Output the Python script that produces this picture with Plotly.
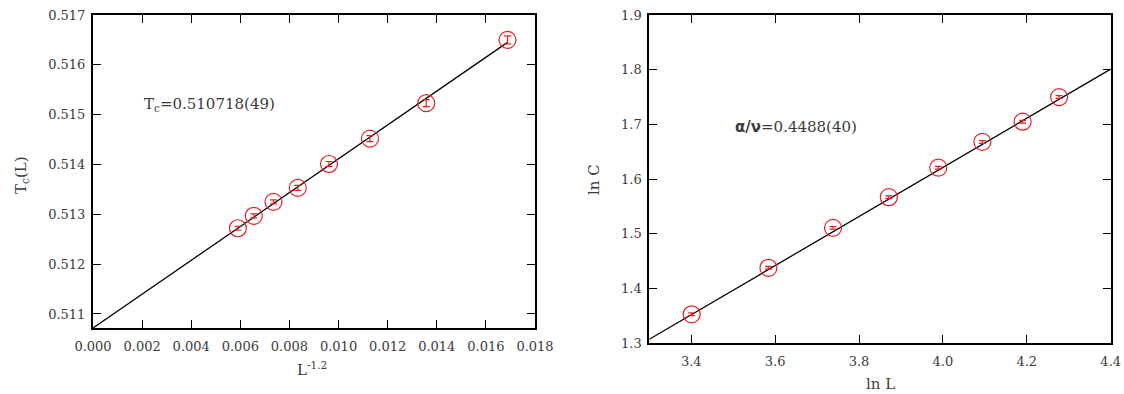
import plotly.graph_objects as go

# Finite-size scaling data (L = 30 ... 72)
x_left = [0.00590, 0.00655, 0.00735, 0.00834, 0.00961, 0.01128, 0.01357, 0.01688]
tc_vals = [0.51272, 0.51297, 0.51325, 0.51353, 0.51401, 0.51452, 0.51523, 0.51650]
tc_errs = [0.00004, 0.00004, 0.00004, 0.00005, 0.00005, 0.00006, 0.00007, 0.00008]

ln_L = [3.401, 3.584, 3.738, 3.871, 3.989, 4.094, 4.190, 4.277]
ln_C = [1.353, 1.438, 1.511, 1.567, 1.621, 1.668, 1.705, 1.750]
ln_C_errs = [0.0025, 0.0025, 0.0025, 0.0025, 0.0025, 0.0025, 0.0025, 0.0025]

# Linear fits
tc_inf = 0.510718
tc_slope = 0.3396
fit_left_x = [0.0, 0.01688]

alpha_nu = 0.4488
c_intercept = -0.1737
fit_right_x = [3.3, 4.4]

RED = "rgb(232,30,36)"
FONT = "DejaVu Serif"
TEXT = "#3a3a3a"

fig = go.Figure()

fig.add_trace(go.Scatter(
    x=fit_left_x, y=[tc_inf + tc_slope * v for v in fit_left_x],
    mode="lines", line=dict(color="black", width=1.3),
    xaxis="x", yaxis="y", showlegend=False, hoverinfo="skip"))
fig.add_trace(go.Scatter(
    x=x_left, y=tc_vals, mode="markers",
    marker=dict(symbol="circle-open", size=17, color=RED, line=dict(width=1.2)),
    error_y=dict(type="data", array=tc_errs, color=RED, thickness=1.2, width=3.5),
    xaxis="x", yaxis="y", showlegend=False))

fig.add_trace(go.Scatter(
    x=fit_right_x, y=[c_intercept + alpha_nu * v for v in fit_right_x],
    mode="lines", line=dict(color="black", width=1.3),
    xaxis="x2", yaxis="y2", showlegend=False, hoverinfo="skip"))
fig.add_trace(go.Scatter(
    x=ln_L, y=ln_C, mode="markers",
    marker=dict(symbol="circle-open", size=17, color=RED, line=dict(width=1.2)),
    error_y=dict(type="data", array=ln_C_errs, color=RED, thickness=1.2, width=3.5),
    xaxis="x2", yaxis="y2", showlegend=False))

axis_common = dict(
    showgrid=False, zeroline=False, showline=True, linecolor="black", linewidth=2,
    mirror="ticks", ticks="inside", ticklen=8, tickwidth=1, tickcolor="black",
    automargin=False,
    tickfont=dict(family=FONT, size=13, color=TEXT),
)

fig.update_layout(
    width=1124, height=394,
    margin=dict(l=0, r=0, t=0, b=0),
    paper_bgcolor="white", plot_bgcolor="white",
    font=dict(family=FONT, size=13, color=TEXT),
    xaxis=dict(domain=[93 / 1124, 535 / 1124], range=[0, 0.018],
               tick0=0, dtick=0.002, tickformat=".3f", anchor="y",
               ticklabelstandoff=5, **axis_common),
    yaxis=dict(domain=[1 - 328 / 394, 1 - 15 / 394], range=[0.510718, 0.517],
               tickvals=[0.511, 0.512, 0.513, 0.514, 0.515, 0.516, 0.517],
               tickformat=".3f", anchor="x", ticklabelstandoff=3, **axis_common),
    xaxis2=dict(domain=[649.3 / 1124, 1110.7 / 1124], range=[3.3, 4.4],
                tickvals=[3.4, 3.6, 3.8, 4.0, 4.2, 4.4], tickformat=".1f",
                anchor="y2", ticklabelstandoff=5, **axis_common),
    yaxis2=dict(domain=[1 - 343.3 / 394, 1 - 15 / 394], range=[1.3, 1.9],
                tick0=1.3, dtick=0.1, tickformat=".1f", anchor="x2",
                ticklabelstandoff=3, **axis_common),
)

annotations = [
    dict(text="T<sub>c</sub>(L)", x=22, y=175, textangle=-90, size=15),
    dict(text="L<sup>-1.2</sup>", x=312, y=369, size=15),
    dict(text="ln C", x=594, y=180, textangle=-90, size=15),
    dict(text="ln L", x=880, y=384, size=15),
    dict(text="T<sub>c</sub>=0.510718(49)", x=209, y=104, size=15),
    dict(text="<span style='font-family:DejaVu Sans;font-weight:bold'>α/ν</span>=0.4488(40)",
         x=796, y=127, size=15),
]
for a in annotations:
    fig.add_annotation(
        text=a["text"], xref="paper", yref="paper",
        x=a["x"] / 1124, y=1 - a["y"] / 394, xanchor="center", yanchor="middle",
        textangle=a.get("textangle", 0), showarrow=False,
        font=dict(family=FONT, size=a["size"], color=TEXT))

fig.write_html("out.html")
